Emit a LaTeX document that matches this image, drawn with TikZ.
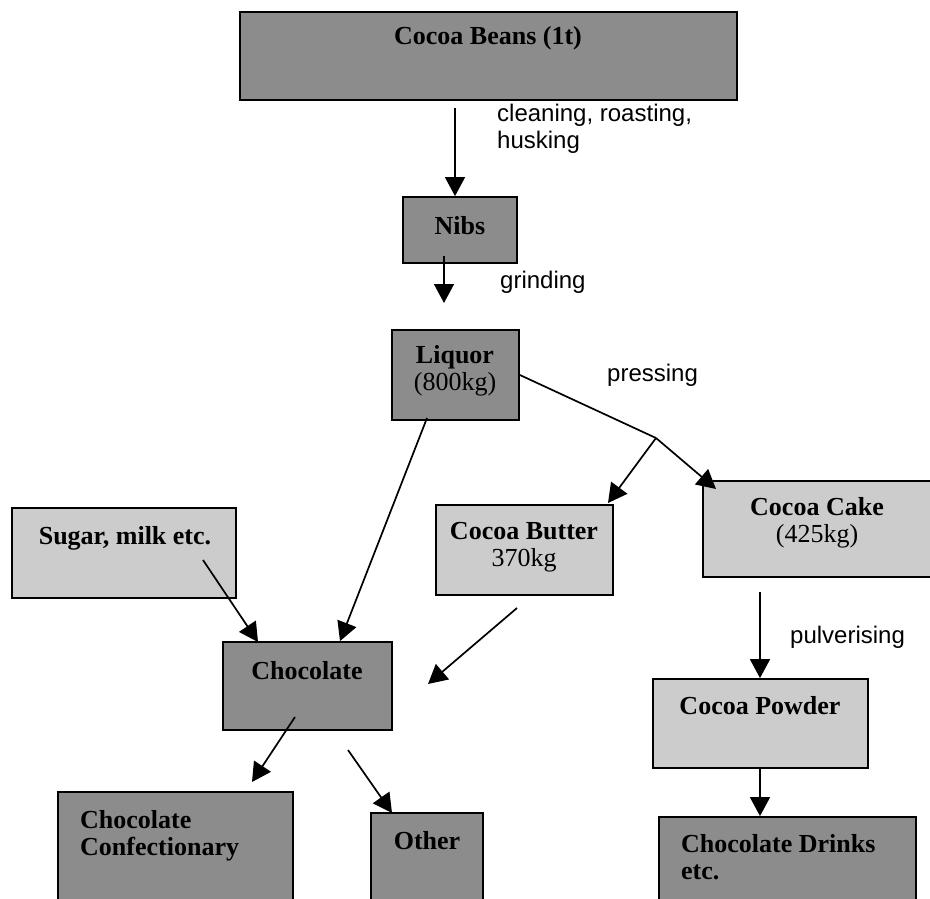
\documentclass[tikz,border=0pt]{standalone}
\usepackage{fontspec}
\setmainfont{Liberation Serif}
\setsansfont{Liberation Sans}
\usetikzlibrary{arrows.meta}

\begin{document}
\begin{tikzpicture}[x=1pt,y=-1pt,
    darkbox/.style={draw=black,line width=1.8pt,fill=black!45,inner sep=0pt},
    lightbox/.style={draw=black,line width=1.8pt,fill=black!20,inner sep=0pt},
    boxtext/.style={inner sep=0pt,align=center,font=\fontsize{26}{27}\selectfont},
    steptext/.style={inner sep=0pt,align=left,font=\sffamily\fontsize{24}{27}\selectfont},
    flow/.style={line width=1.7pt,-{Triangle[length=19pt,width=20pt]}}]
\useasboundingbox (0,0) rectangle (930,899);

% boxes
\node[darkbox,minimum width=497,minimum height=88] (beans) at (488.5,56) {};
\node[darkbox,minimum width=114,minimum height=66] (nibs) at (460,230) {};
\node[darkbox,minimum width=127,minimum height=90] (liquor) at (455.5,375) {};
\node[lightbox,minimum width=224,minimum height=90] (sugar) at (124,553) {};
\node[lightbox,minimum width=177,minimum height=90] (butter) at (524.5,550) {};
\node[lightbox,minimum width=229,minimum height=96] (cake) at (817.5,529) {};
\node[darkbox,minimum width=169,minimum height=88] (choc) at (307.5,686) {};
\node[lightbox,minimum width=215,minimum height=89] (powder) at (760.5,723.5) {};
\node[darkbox,minimum width=235,minimum height=118] (conf) at (175.5,851) {};
\node[darkbox,minimum width=112,minimum height=97] (other) at (427,861.5) {};
\node[darkbox,minimum width=257,minimum height=93] (drinks) at (787.5,863.5) {};

% box texts
\node[boxtext,anchor=base] (tbeans) at (488,45) {\textbf{Cocoa Beans (1t)}};
\node[boxtext,anchor=base] (tnibs) at (460,234) {\textbf{Nibs}};
\node[boxtext,anchor=north] (tliquor) at (455,345) {\textbf{Liquor}\\(800kg)};
\node[boxtext,anchor=base] (tsugar) at (125,544) {\textbf{Sugar, milk etc.}};
\node[boxtext,anchor=north] (tbutter) at (524,522) {\textbf{Cocoa Butter}\\370kg};
\node[boxtext,anchor=north] (tcake) at (817,497) {\textbf{Cocoa Cake}\\(425kg)};
\node[boxtext,anchor=base] (tchoc) at (307,679) {\textbf{Chocolate}};
\node[boxtext,anchor=base] (tpowder) at (760,714) {\textbf{Cocoa Powder}};
\node[boxtext,anchor=north west,align=left] (tconf) at (80,810) {\textbf{Chocolate}\\\textbf{Confectionary}};
\node[boxtext,anchor=base] (tother) at (427,849) {\textbf{Other}};
\node[boxtext,anchor=north west,align=left] (tdrinks) at (681,834) {\textbf{Chocolate Drinks}\\\textbf{etc.}};

% step labels
\node[steptext,anchor=north west] (lclean) at (497,104) {cleaning, roasting,\\husking};
\node[steptext,anchor=base west] (lgrind) at (500,288) {grinding};
\node[steptext,anchor=base west] (lpress) at (607,381) {pressing};
\node[steptext,anchor=base west] (lpulv) at (790,643) {pulverising};

% connectors
\coordinate (a1) at (455,108);
\coordinate (g0) at (444,256);
\coordinate (g1) at (444,303);
\coordinate (press) at (656,438);
\coordinate (bt) at (608,503);
\coordinate (ct) at (716,489);
\coordinate (l0) at (427,418);
\coordinate (s0) at (203,560);
\coordinate (ce) at (258,642);
\coordinate (b0) at (517,608);
\coordinate (b1) at (428,684);
\coordinate (h0) at (295,717);
\coordinate (h1) at (252,782);
\coordinate (o0) at (348,750);
\coordinate (o1) at (392,813);
\coordinate (k0) at (760,592);

\draw[flow] (a1) -- (a1 |- nibs.north);
\draw[flow] (g0) -- (g1);
\draw[line width=1.7pt] (liquor.east) -- (press);
\draw[flow] (press) -- (bt);
\draw[flow] (press) -- (ct);
\draw[flow] (l0) -- (choc.north -| 340,0);
\draw[flow] (s0) -- (ce);
\draw[flow] (b0) -- (b1);
\draw[flow] (h0) -- (h1);
\draw[flow] (o0) -- (o1);
\draw[flow] (k0) -- (k0 |- powder.north);
\draw[flow] (powder.south -| k0) -- (drinks.north -| k0);
\end{tikzpicture}
\end{document}
